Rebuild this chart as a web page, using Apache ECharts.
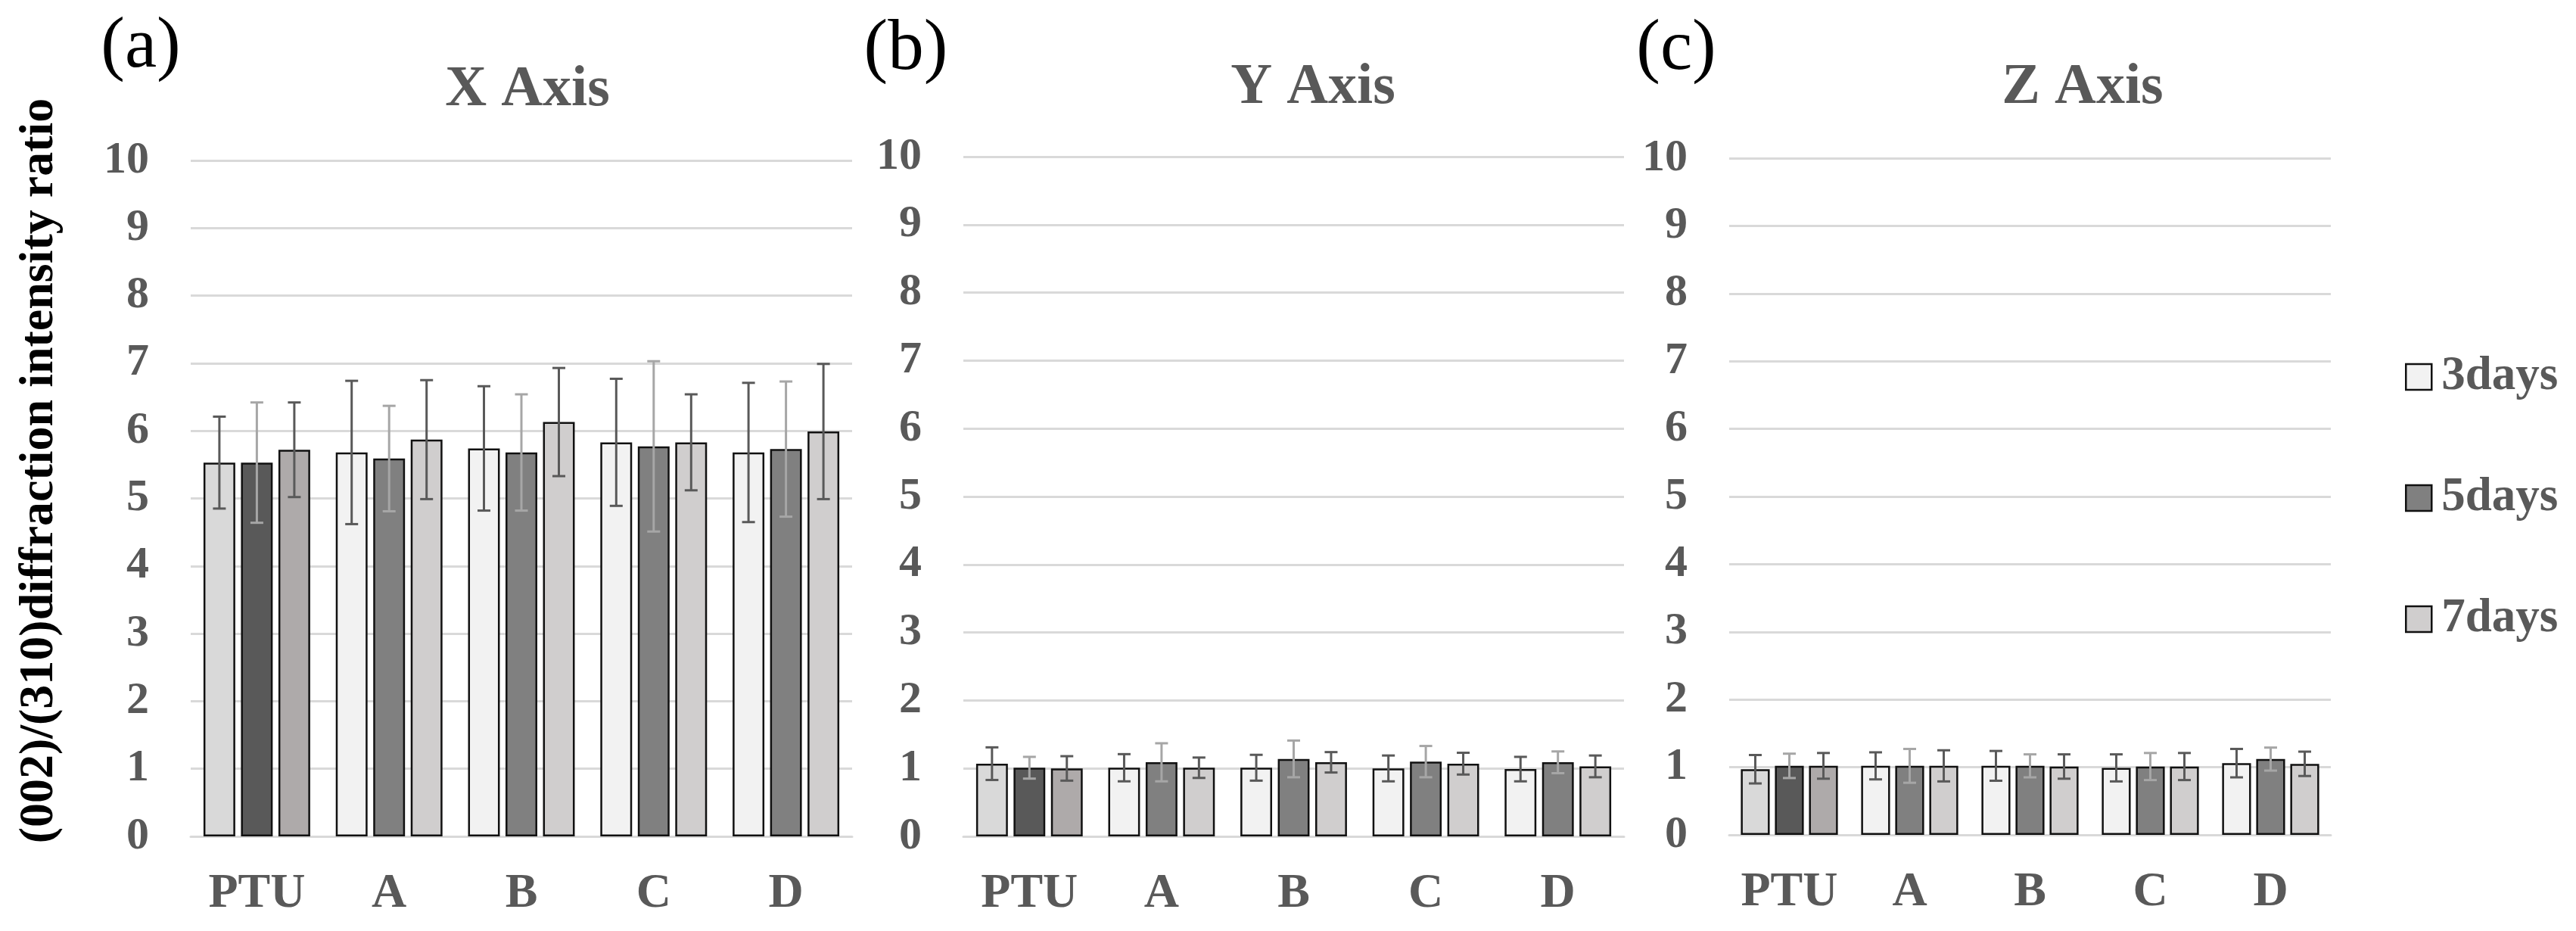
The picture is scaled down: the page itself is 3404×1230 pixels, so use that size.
<!DOCTYPE html>
<html><head><meta charset="utf-8">
<script src="https://cdn.jsdelivr.net/npm/echarts@6/dist/echarts.min.js"></script>
<style>html,body{margin:0;padding:0;background:#fff}#c{width:3404px;height:1230px}</style>
</head><body><div id="c"></div>
<script>
// ---------- data ----------
const categories = ['PTU', 'A', 'B', 'C', 'D'];
const seriesNames = ['3days', '5days', '7days'];
const panelLabels = ['(a)', '(b)', '(c)'];
const panelTitles = ['X Axis', 'Y Axis', 'Z Axis'];
const yAxisTitle = '(002)/(310)diffraction intensity ratio';
const yMin = 0, yMax = 10, yStep = 1;

// Panel (a) X Axis
const x3days = [5.53, 5.68, 5.74, 5.83, 5.68];
const x3daysErr = [0.68, 1.06, 0.92, 0.94, 1.03];
const x5days = [5.53, 5.59, 5.68, 5.77, 5.73];
const x5daysErr = [0.89, 0.78, 0.86, 1.26, 1.00];
const x7days = [5.72, 5.87, 6.13, 5.83, 5.99];
const x7daysErr = [0.70, 0.88, 0.80, 0.71, 1.00];

// Panel (b) Y Axis
const y3days = [1.07, 1.01, 1.01, 1.00, 0.99];
const y3daysErr = [0.24, 0.20, 0.19, 0.19, 0.18];
const y5days = [1.01, 1.09, 1.14, 1.10, 1.09];
const y5daysErr = [0.16, 0.28, 0.27, 0.23, 0.16];
const y7days = [1.00, 1.01, 1.09, 1.07, 1.03];
const y7daysErr = [0.18, 0.15, 0.15, 0.16, 0.16];

// Panel (c) Z Axis
const z3days = [0.97, 1.02, 1.02, 0.99, 1.06];
const z3daysErr = [0.21, 0.20, 0.22, 0.20, 0.21];
const z5days = [1.02, 1.02, 1.02, 1.01, 1.12];
const z5daysErr = [0.18, 0.25, 0.17, 0.20, 0.17];
const z7days = [1.02, 1.02, 1.01, 1.01, 1.05];
const z7daysErr = [0.19, 0.23, 0.18, 0.20, 0.18];

// ---------- styles ----------
const FONT = "'Liberation Serif', 'Times New Roman', serif";
const barColors = ['#f2f2f2', '#808080', '#d0cece'];
const ptuColors = ['#d9d9d9', '#595959', '#aeaaaa'];
const errColors = ['#595959', '#a6a6a6', '#595959'];
const BAR_W = 0.24, BAR_GAP = 0.18;

const panels = [
  { vals: [x3days, x5days, x7days], errs: [x3daysErr, x5daysErr, x7daysErr], left: 252, width: 874, top: 212, bottom: 125 },
  { vals: [y3days, y5days, y7days], errs: [y3daysErr, y5daysErr, y7daysErr], left: 1273, width: 873, top: 207, bottom: 125 },
  { vals: [z3days, z5days, z7days], errs: [z3daysErr, z5daysErr, z7daysErr], left: 2285, width: 795, top: 209, bottom: 127 }
];

const grids = [], xAxes = [], yAxes = [], series = [];

function errRender(idx, color) {
  return function (params, api) {
    const ci = api.value(0), v = api.value(1), e = api.value(2);
    const band = api.size([1, 0])[0];
    const bw = band * BAR_W, step = bw * (1 + BAR_GAP);
    const cx = api.coord([ci, v])[0] + (idx - 1) * step;
    const yHi = api.coord([ci, v + e])[1], yLo = api.coord([ci, v - e])[1];
    const cap = 8.5;
    const st = { stroke: color, lineWidth: 3 };
    return { type: 'group', children: [
      { type: 'line', shape: { x1: cx, y1: yHi, x2: cx, y2: yLo }, style: st },
      { type: 'line', shape: { x1: cx - cap, y1: yHi, x2: cx + cap, y2: yHi }, style: st },
      { type: 'line', shape: { x1: cx - cap, y1: yLo, x2: cx + cap, y2: yLo }, style: st }
    ]};
  };
}

panels.forEach((p, gi) => {
  grids.push({ left: p.left, width: p.width, top: p.top, bottom: p.bottom, containLabel: false });
  xAxes.push({
    type: 'category', gridIndex: gi, data: categories,
    axisLine: { show: true, lineStyle: { color: '#d9d9d9', width: 3 } },
    axisTick: { show: false },
    axisLabel: { interval: 0, fontFamily: FONT, fontWeight: 'bold', fontSize: 64, color: '#595959', margin: 44 }
  });
  yAxes.push({
    type: 'value', gridIndex: gi, min: yMin, max: yMax, interval: yStep,
    axisLine: { show: false }, axisTick: { show: false },
    splitLine: { lineStyle: { color: '#d9d9d9', width: 3 } },
    axisLabel: { fontFamily: FONT, fontWeight: 'bold', fontSize: 60, color: '#595959', margin: 55 }
  });
  for (let s = 0; s < 3; s++) {
    series.push({
      type: 'bar', name: seriesNames[s], xAxisIndex: gi, yAxisIndex: gi,
      barWidth: (BAR_W * 100) + '%', barGap: (BAR_GAP * 100) + '%',
      itemStyle: { color: barColors[s], borderColor: '#111', borderWidth: 2.5 },
      data: p.vals[s].map((v, i) => i === 0 ? { value: v, itemStyle: { color: ptuColors[s] } } : v),
      z: 2
    });
  }
  for (let s = 0; s < 3; s++) {
    series.push({
      type: 'custom', name: 'err' + gi + s, xAxisIndex: gi, yAxisIndex: gi,
      renderItem: errRender(s, errColors[s]),
      encode: { x: 0, y: 1 },
      data: p.vals[s].map((v, i) => [i, v, p.errs[s][i]]),
      z: 5, silent: true
    });
  }
});

const labelPos = [[186, 63], [1197, 66], [2215, 66]];
const titlePos = [[697, 119], [1735, 116], [2752, 116]];
const graphics = [];
panelLabels.forEach((t, i) => graphics.push({
  type: 'text', x: labelPos[i][0], y: labelPos[i][1],
  style: { text: t, font: 'normal 95px ' + FONT, fill: '#000', textAlign: 'center', textVerticalAlign: 'middle' }
}));
panelTitles.forEach((t, i) => graphics.push({
  type: 'text', x: titlePos[i][0], y: titlePos[i][1],
  style: { text: t, font: 'bold 76px ' + FONT, fill: '#595959', textAlign: 'center', textVerticalAlign: 'middle' }
}));
graphics.push({
  type: 'text', x: 52, y: 622, rotation: Math.PI / 2,
  style: { text: yAxisTitle, font: 'bold 64px ' + FONT, fill: '#000', textAlign: 'center', textVerticalAlign: 'middle' }
});

const chart = echarts.init(document.getElementById('c'), null, { renderer: 'canvas' });
chart.setOption({
  animation: false,
  backgroundColor: '#fff',
  grid: grids, xAxis: xAxes, yAxis: yAxes, series: series,
  legend: {
    data: seriesNames, orient: 'vertical', left: 3173, top: 461,
    icon: 'rect', itemWidth: 34, itemHeight: 34, itemGap: 96,
    itemStyle: { borderColor: '#111', borderWidth: 2.5 },
    textStyle: { fontFamily: FONT, fontWeight: 'bold', fontSize: 63, color: '#595959', lineHeight: 64, padding: [0, 0, 0, 8] }
  },
  graphic: graphics
});
</script>
</body></html>
